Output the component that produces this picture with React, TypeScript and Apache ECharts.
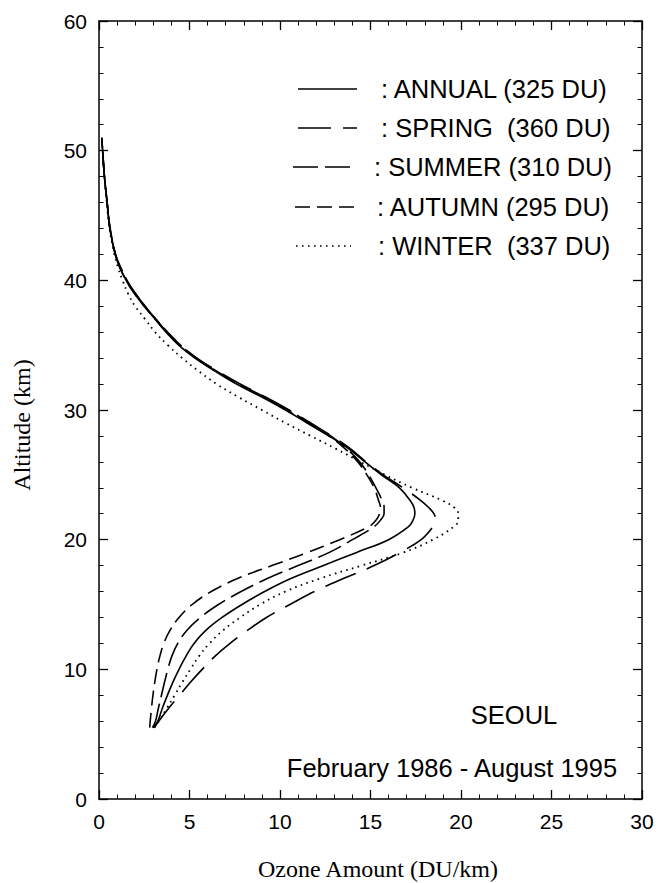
import React, { useEffect, useRef } from "react";
import * as echarts from "echarts";

// Altitude grid (km) shared by all profiles
const ALTITUDE_KM = [
  5.5, 6, 7, 8, 9, 10, 11, 12, 13, 14, 15, 16, 17, 18, 19, 20, 21, 21.5, 22, 22.5,
  23, 24, 25, 26, 27, 28, 29, 30, 31, 32, 33, 34, 35, 36, 37, 38, 39, 40, 41, 42,
  44, 46, 48, 50, 51,
];

// Ozone amount (DU/km) at each altitude
const ANNUAL = [
  3.0, 3.25, 3.5, 3.78, 4.08, 4.42, 4.8, 5.25, 5.9, 6.8, 7.9, 9.15, 10.6, 12.4, 14.2, 16.0, 17.1, 17.35, 17.45, 17.4,
  17.2, 16.6, 15.6, 14.7, 13.8, 12.7, 11.5, 10.3, 9.0, 7.6, 6.4, 5.3, 4.4, 3.7, 3.1, 2.5, 1.95, 1.5, 1.15, 0.9,
  0.6, 0.45, 0.3, 0.2, 0.15,
];
const SPRING = [
  3.05, 3.3, 3.85, 4.45, 5.05, 5.7, 6.4, 7.24, 8.2, 9.25, 10.55, 11.9, 13.5, 15.2, 16.6, 17.8, 18.45, 18.6, 18.5, 18.2,
  17.8, 16.8, 15.7, 14.75, 13.9, 12.85, 11.7, 10.5, 9.2, 7.8, 6.55, 5.4, 4.5, 3.75, 3.15, 2.55, 2.0, 1.5, 1.15, 0.9,
  0.6, 0.45, 0.3, 0.2, 0.15,
];
const SUMMER = [
  2.95, 3.12, 3.28, 3.45, 3.62, 3.8, 4.02, 4.35, 4.85, 5.6, 6.6, 7.85, 9.3, 11.0, 12.7, 14.0, 15.2, 15.55, 15.75, 15.75,
  15.65, 15.3, 14.9, 14.4, 13.7, 12.8, 11.65, 10.45, 9.15, 7.75, 6.5, 5.4, 4.5, 3.8, 3.15, 2.55, 2.0, 1.55, 1.2, 0.92,
  0.62, 0.45, 0.3, 0.2, 0.15,
];
const AUTUMN = [
  2.8, 2.83, 2.9, 2.98, 3.08, 3.2, 3.36, 3.58, 3.92, 4.42, 5.15, 6.2, 7.65, 9.55, 11.5, 13.3, 14.9, 15.3, 15.5, 15.55,
  15.45, 15.2, 14.8, 14.3, 13.6, 12.7, 11.55, 10.35, 9.05, 7.65, 6.45, 5.35, 4.45, 3.75, 3.1, 2.5, 1.95, 1.5, 1.15, 0.9,
  0.6, 0.45, 0.3, 0.2, 0.15,
];
const WINTER = [
  3.05, 3.3, 3.75, 4.18, 4.6, 5.05, 5.52, 6.1, 6.85, 7.8, 8.9, 10.3, 12.2, 14.5, 16.8, 18.45, 19.6, 19.85, 19.85, 19.6,
  19.0, 17.3, 15.8, 14.45, 13.1, 11.7, 10.3, 9.0, 7.7, 6.5, 5.5, 4.6, 3.8, 3.1, 2.55, 2.0, 1.6, 1.3, 1.05, 0.85,
  0.58, 0.43, 0.3, 0.2, 0.15,
];

const SERIES_NAMES = ["ANNUAL", "SPRING", "SUMMER", "AUTUMN", "WINTER"];
const LEGEND_LABELS = [
  ": ANNUAL (325 DU)",
  ": SPRING  (360 DU)",
  ": SUMMER (310 DU)",
  ": AUTUMN (295 DU)",
  ": WINTER  (337 DU)",
];
const STATION_LABEL = "SEOUL";
const PERIOD_LABEL = "February 1986 - August 1995";
const X_NAME = "Ozone Amount (DU/km)";
const Y_NAME = "Altitude (km)";

const X_MIN = 0, X_MAX = 30, X_INTERVAL = 5;
const Y_MIN = 0, Y_MAX = 60, Y_INTERVAL = 10;

// styles / layout (not data)
const DASHES: any[] = ["solid", [33, 12], [25, 7], [15, 7], [1.6, 4.4]];
const LEGEND_LAYOUT = [
  { x1: 298, x2: 357, tx: 381, y: 89 },
  { x1: 298, x2: 357, tx: 381, y: 128 },
  { x1: 293, x2: 350, tx: 374, y: 167 },
  { x1: 295, x2: 355, tx: 377, y: 207 },
  { x1: 296, x2: 351, tx: 378, y: 246 },
];

const SANS = '"Liberation Sans", Arial, sans-serif';
const SERIF = '"Liberation Serif", "Times New Roman", serif';

export default function App() {
  const ref = useRef<HTMLDivElement>(null);

  useEffect(() => {
    if (!ref.current) return;
    const chart = echarts.init(ref.current, undefined, { renderer: "svg" });
    const profiles = [ANNUAL, SPRING, SUMMER, AUTUMN, WINTER];

    const axisCommon = {
      type: "value" as const,
      axisLine: { show: true, onZero: false, lineStyle: { color: "#000", width: 1.5 } },
      axisTick: { show: true, inside: true, length: 9, lineStyle: { color: "#000", width: 1.3 } },
      minorTick: { show: true, splitNumber: 5, length: 4.5, lineStyle: { color: "#000", width: 1 } },
      splitLine: { show: false },
      minorSplitLine: { show: false },
    };

    const textEl = (text: string, x: number, y: number, font: string, align: string, rotation = 0) => ({
      type: "text",
      x,
      y,
      rotation,
      silent: true,
      style: {
        text,
        font,
        fill: "#000",
        align,
        verticalAlign: "middle",
        textAlign: align,
        textVerticalAlign: "middle",
      },
    });

    const graphics: any[] = [];
    LEGEND_LAYOUT.forEach((p, i) => {
      const dash = DASHES[i];
      graphics.push({
        type: "line",
        silent: true,
        shape: { x1: p.x1, y1: p.y, x2: p.x2, y2: p.y },
        style: {
          stroke: "#000",
          lineWidth: 1.6,
          lineDash: dash === "solid" ? null : dash,
        },
      });
      graphics.push(textEl(LEGEND_LABELS[i], p.tx, p.y, `25.5px ${SANS}`, "left"));
    });
    graphics.push(textEl(STATION_LABEL, 514, 715, `25.5px ${SANS}`, "center"));
    graphics.push(textEl(PERIOD_LABEL, 452, 768, `25.5px ${SANS}`, "center"));
    graphics.push(textEl(X_NAME, 378, 869, `24px ${SERIF}`, "center"));
    graphics.push(textEl(Y_NAME, 22, 425, `24px ${SERIF}`, "center", Math.PI / 2));

    chart.setOption({
      animation: false,
      backgroundColor: "#fff",
      grid: { left: 99, right: 16, top: 21, bottom: 84, containLabel: false },
      xAxis: [
        {
          ...axisCommon,
          position: "bottom",
          min: X_MIN,
          max: X_MAX,
          interval: X_INTERVAL,
          axisLabel: { show: true, color: "#000", fontFamily: SANS, fontSize: 21, margin: 12 },
        },
        {
          ...axisCommon,
          position: "top",
          min: X_MIN,
          max: X_MAX,
          interval: X_INTERVAL,
          axisLabel: { show: false },
        },
      ],
      yAxis: [
        {
          ...axisCommon,
          position: "left",
          min: Y_MIN,
          max: Y_MAX,
          interval: Y_INTERVAL,
          axisLabel: { show: true, color: "#000", fontFamily: SANS, fontSize: 21, margin: 12 },
        },
        {
          ...axisCommon,
          position: "right",
          min: Y_MIN,
          max: Y_MAX,
          interval: Y_INTERVAL,
          axisLabel: { show: false },
        },
      ],
      series: SERIES_NAMES.map((name, i) => ({
        name,
        type: "line",
        xAxisIndex: 0,
        yAxisIndex: 0,
        symbol: "none",
        smooth: 0.4,
        silent: true,
        data: ALTITUDE_KM.map((alt, k) => [profiles[i][k], alt]),
        lineStyle: {
          color: "#000",
          width: i === 4 ? 1.8 : 1.6,
          type: DASHES[i],
          cap: "butt",
        },
      })),
      graphic: graphics,
    });

    return () => chart.dispose();
  }, []);

  return (
    <div
      ref={ref}
      style={{ position: "fixed", left: 0, top: 0, width: 658, height: 883, background: "#fff" }}
    />
  );
}
